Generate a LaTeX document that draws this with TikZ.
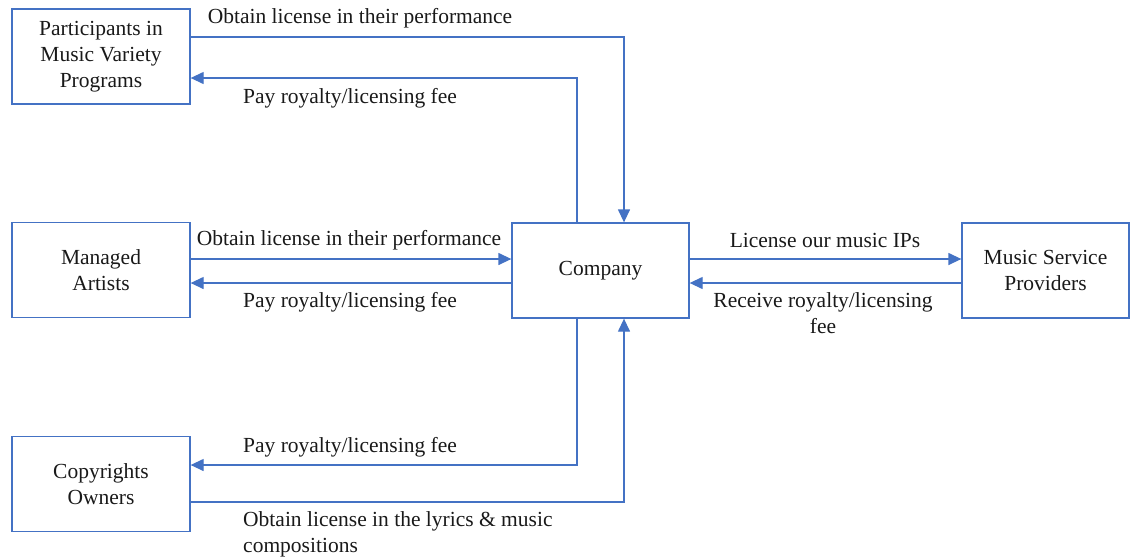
\documentclass[tikz,border=0pt]{standalone}
\usepackage{fontspec}
\setmainfont{Liberation Serif}
\usetikzlibrary{arrows.meta}
\definecolor{flowblue}{HTML}{4472C4}
\begin{document}
\begin{tikzpicture}[x=1pt,y=-1pt,
  every node/.style={font=\fontsize{21.5}{26}\selectfont, text=black!90},
  party/.style={draw=flowblue, line width=1.3pt, align=center, inner sep=0pt,
    minimum width=178pt, minimum height=95pt},
  flow/.style={draw=flowblue, line width=1.3pt,
    -{Triangle[length=13pt,width=12pt]}},
  lbl/.style={inner sep=0pt, align=center}]
\useasboundingbox (0,0) rectangle (1131,558);

% parties
\node[party] (part) at (101,56.5) {Participants in\\Music Variety\\Programs};
\node[party] (man)  at (101,270)  {Managed\\Artists};
\node[party] (copy) at (101,484)  {Copyrights\\Owners};
\node[party, minimum width=177pt] (comp) at (600.5,270.5) {Company};
\node[party, minimum width=167pt] (msp)  at (1045.5,270.5) {Music Service\\Providers};

% routing levels and vertical rails
\coordinate (rowA) at (0,37);
\coordinate (rowB) at (0,78);
\coordinate (rowC) at (0,259);
\coordinate (rowD) at (0,283);
\coordinate (rowE) at (0,465);
\coordinate (rowF) at (0,502);
\coordinate (railL) at (577,0);
\coordinate (railR) at (624,0);

% flows
\draw[flow] (part.east |- rowA) -| (railR |- comp.north);
\draw[flow] (railL |- comp.north) |- (part.east |- rowB);
\draw[flow] (man.east |- rowC) -- (comp.west |- rowC);
\draw[flow] (comp.west |- rowD) -- (man.east |- rowD);
\draw[flow] (comp.east |- rowC) -- (msp.west |- rowC);
\draw[flow] (msp.west |- rowD) -- (comp.east |- rowD);
\draw[flow] (railL |- comp.south) |- (copy.east |- rowE);
\draw[flow] (copy.east |- rowF) -| (railR |- comp.south);

% flow labels
\node[lbl] (t1) at (360,18) {Obtain license in their performance};
\node[lbl] (t2) at (350,98) {Pay royalty/licensing fee};
\node[lbl] (t3) at (349,240) {Obtain license in their performance};
\node[lbl] (t4) at (350,302) {Pay royalty/licensing fee};
\node[lbl] (t5) at (825,240) {License our music IPs};
\node[lbl] (t6) at (823,313) {Receive royalty/licensing\\fee};
\node[lbl] (t7) at (350,447) {Pay royalty/licensing fee};
\node[lbl, align=left, anchor=west] (t8) at (243,534) {Obtain license in the lyrics \& music\\compositions};
\end{tikzpicture}
\end{document}
